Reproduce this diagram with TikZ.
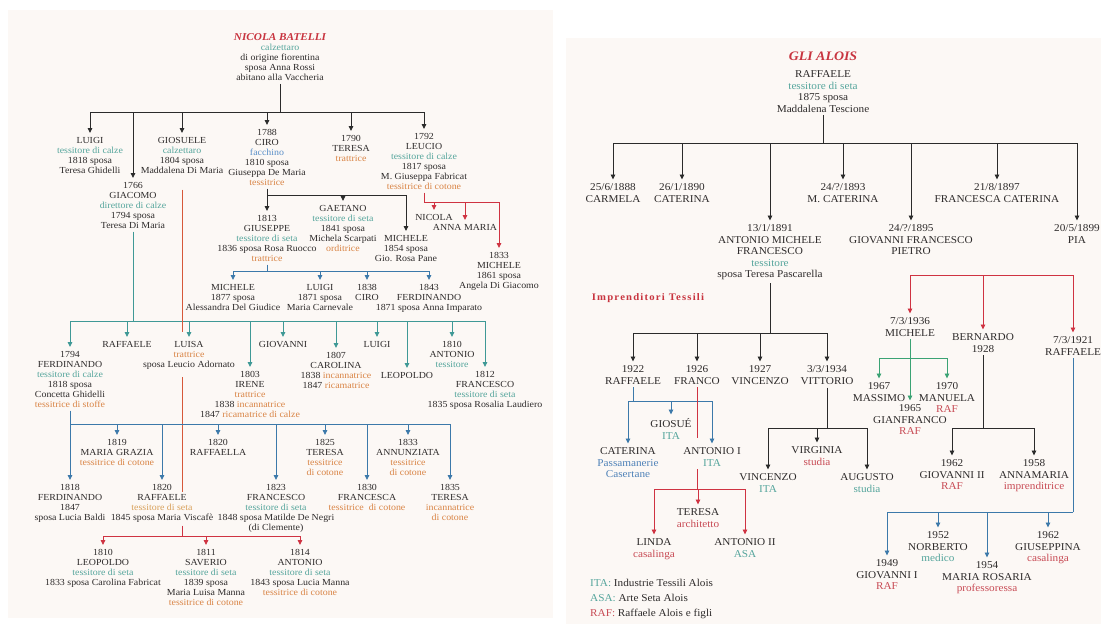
\documentclass[tikz,border=0pt]{standalone}
\usepackage{fontspec}
\setmainfont[FakeStretch=1.07]{Liberation Serif}
\newfontfamily\spacedfont[FakeStretch=1.07,LetterSpace=12]{Liberation Serif}
\usetikzlibrary{arrows.meta}

% colours of the two family trees
\definecolor{bgc}{HTML}{FCF8F5}
\definecolor{ink}{HTML}{2E2B2B}
\definecolor{occ}{HTML}{55A59C}
\definecolor{org}{HTML}{D98445}
\definecolor{tan}{HTML}{D8A05A}
\definecolor{rdt}{HTML}{C84B55}
\definecolor{fac}{HTML}{5A8FC8}
\definecolor{blt}{HTML}{4F82B8}
\definecolor{ttl}{HTML}{C8343F}
\definecolor{lnk}{HTML}{2B2B2B}
\definecolor{lteal}{HTML}{3F9996}
\definecolor{lblue}{HTML}{3C79AA}
\definecolor{lred}{HTML}{CF3342}
\definecolor{lorg}{HTML}{D6583A}
\definecolor{lgrn}{HTML}{3BA374}

\newcommand{\tealtx}[1]{\textcolor{occ}{#1}}
\newcommand{\orgtx}[1]{\textcolor{org}{#1}}
\newcommand{\tantx}[1]{\textcolor{tan}{#1}}
\newcommand{\redtx}[1]{\textcolor{rdt}{#1}}
\newcommand{\factx}[1]{\textcolor{fac}{#1}}
\newcommand{\blutx}[1]{\textcolor{blt}{#1}}

\begin{document}
\begin{tikzpicture}[x=1pt,y=-1pt,
    pl/.style={font=\fontsize{9.25}{10}\selectfont, align=center,
      inner sep=0pt, anchor=north, text=ink},
    pr/.style={font=\fontsize{10.5}{11.5}\selectfont, align=center,
      inner sep=0pt, anchor=north, text=ink},
    ln/.style={line width=0.9pt, lnk, shorten <=3pt},
    bus/.style={line width=0.9pt, lnk, line cap=rect},
    arr/.style={line width=0.9pt, lnk,
      -{Triangle[length=5pt,width=4.6pt]}, shorten >=4pt}
  ]
  \useasboundingbox (0,0) rectangle (1105,624);

  % ---------------- Left panel: Batelli ----------------
  \begin{scope}
    \fill[bgc] (8,10) rectangle (553,618);

    % Founder
    \node[text=ttl, font=\fontsize{10.5}{12}\selectfont\bfseries\itshape]
      (nbtitle) at (280,37) {NICOLA BATELLI};
    \node[pl] (nicola) at (280,44)
      {\tealtx{calzettaro}\\di origine fiorentina\\sposa Anna Rossi\\abitano alla Vaccheria};

    % Children
    \node[pl] (luigiA) at (90,137)
      {LUIGI\\\tealtx{tessitore di calze}\\1818 sposa\\Teresa Ghidelli};
    \node[pl] (giacomo) at (133,182)
      {1766\\GIACOMO\\\tealtx{direttore di calze}\\1794 sposa\\Teresa Di Maria};
    \node[pl] (giosuele) at (182,137)
      {GIOSUELE\\\tealtx{calzettaro}\\1804 sposa\\Maddalena Di Maria};
    \node[pl] (ciro) at (267,129)
      {1788\\CIRO\\\factx{facchino}\\1810 sposa\\Giuseppa De Maria\\\orgtx{tessitrice}};
    \node[pl] (teresaA) at (351,135) {1790\\TERESA\\\orgtx{trattrice}};
    \node[pl] (leucio) at (424,133)
      {1792\\LEUCIO\\\tealtx{tessitore di calze}\\1817 sposa\\M. Giuseppa Fabricat\\\orgtx{tessitrice di cotone}};

    % Leucio's line
    \node[pl] (nicolaB) at (434,214) {NICOLA};
    \node[pl] (annamaria) at (465,224) {ANNA MARIA};
    \node[pl] (micheleA) at (499,252)
      {1833\\MICHELE\\1861 sposa\\Angela Di Giacomo};

    % Ciro's line
    \node[pl] (giuseppe) at (267,215)
      {1813\\GIUSEPPE\\\tealtx{tessitore di seta}\\1836 sposa Rosa Ruocco\\\orgtx{trattrice}};
    \node[pl] (gaetano) at (343,205)
      {GAETANO\\\tealtx{tessitore di seta}\\1841 sposa\\Michela Scarpati\\\orgtx{orditrice}};
    \node[pl] (micheleB) at (406,235) {MICHELE\\1854 sposa\\Gio. Rosa Pane};

    % Giuseppe's line
    \node[pl] (micheleC) at (233,284) {MICHELE\\1877 sposa\\Alessandra Del Giudice};
    \node[pl] (luigiB) at (320,284) {LUIGI\\1871 sposa\\Maria Carnevale};
    \node[pl] (ciroB) at (367,284) {1838\\CIRO};
    \node[pl] (ferdinandoA) at (429,284) {1843\\FERDINANDO\\1871 sposa Anna Imparato};

    % Giacomo's line
    \node[pl] (ferdinandoB) at (70,351)
      {1794\\FERDINANDO\\\tealtx{tessitore di calze}\\1818 sposa\\Concetta Ghidelli\\\orgtx{tessitrice di stoffe}};
    \node[pl] (raffaeleA) at (127,341) {RAFFAELE};
    \node[pl] (luisa) at (189,341) {LUISA\\\orgtx{trattrice}\\sposa Leucio Adornato};
    \node[pl] (irene) at (250,371)
      {1803\\IRENE\\\orgtx{trattrice}\\1838 \orgtx{incannatrice}\\1847 \orgtx{ricamatrice di calze}};
    \node[pl] (giovanni) at (283,341) {GIOVANNI};
    \node[pl] (carolina) at (336,352)
      {1807\\CAROLINA\\1838 \orgtx{incannatrice}\\1847 \orgtx{ricamatrice}};
    \node[pl] (luigiC) at (377,341) {LUIGI};
    \node[pl] (leopoldoA) at (407,372) {LEOPOLDO};
    \node[pl] (antonioA) at (452,341) {1810\\ANTONIO\\\tealtx{tessitore}};
    \node[pl] (francescoA) at (485,371)
      {1812\\FRANCESCO\\\tealtx{tessitore di seta}\\1835 sposa Rosalia Laudiero};

    % Ferdinando's line
    \node[pl] (ferdinandoC) at (70,484) {1818\\FERDINANDO\\1847\\sposa Lucia Baldi};
    \node[pl] (mariagrazia) at (117,439)
      {1819\\MARIA GRAZIA\\\orgtx{tessitrice di cotone}};
    \node[pl] (raffaeleB) at (162,484)
      {1820\\RAFFAELE\\\tantx{tessitore di seta}\\1845 sposa Maria Viscafè};
    \node[pl] (raffaella) at (218,439) {1820\\RAFFAELLA};
    \node[pl] (francescoB) at (276,484)
      {1823\\FRANCESCO\\\tealtx{tessitore di seta}\\1848 sposa Matilde De Negri\\(di Clemente)};
    \node[pl] (teresaB) at (325,439)
      {1825\\TERESA\\\orgtx{tessitrice}\\\orgtx{di cotone}};
    \node[pl] (francesca) at (367,484)
      {1830\\FRANCESCA\\\orgtx{tessitrice\ \ di cotone}};
    \node[pl] (annunziata) at (408,439)
      {1833\\ANNUNZIATA\\\orgtx{tessitrice}\\\orgtx{di cotone}};
    \node[pl] (teresaC) at (450,484)
      {1835\\TERESA\\\orgtx{incannatrice}\\\orgtx{di cotone}};

    % Raffaele's line
    \node[pl] (leopoldoB) at (103,549)
      {1810\\LEOPOLDO\\\tealtx{tessitore di seta}\\1833 sposa Carolina Fabricat};
    \node[pl] (saverio) at (206,549)
      {1811\\SAVERIO\\\tealtx{tessitore di seta}\\1839 sposa\\Maria Luisa Manna\\\orgtx{tessitrice di cotone}};
    \node[pl] (antonioB) at (300,549)
      {1814\\ANTONIO\\\tealtx{tessitore di seta}\\1843 sposa Lucia Manna\\\orgtx{tessitrice di cotone}};

    % Bus heights
    \coordinate (busA) at (0,112);
    \coordinate (busC) at (0,195);
    \coordinate (busL) at (0,202);
    \coordinate (busG) at (0,271);
    \coordinate (busT) at (0,321);
    \coordinate (busB) at (0,424);
    \coordinate (busR) at (0,536);

    % Nicola -> children
    \draw[ln] (nicola.south) -- (nicola.south |- busA);
    \draw[bus] (luigiA |- busA) -- (leucio |- busA);
    \foreach \c in {luigiA,giacomo,giosuele,ciro,teresaA,leucio}
      \draw[arr] (\c |- busA) -- (\c.north);

    % Leucio -> children
    \draw[ln, lred] (leucio.south) -- (leucio |- busL);
    \draw[bus, lred] (leucio |- busL) -- (micheleA |- busL);
    \foreach \c in {nicolaB,annamaria,micheleA}
      \draw[arr, lred] (\c |- busL) -- (\c.north);

    % Ciro -> children
    \draw[arr, shorten <=3pt] (ciro.south) -- (giuseppe.north);
    \draw[bus] (ciro |- busC) -- (micheleB |- busC);
    \foreach \c in {gaetano,micheleB}
      \draw[arr] (\c |- busC) -- (\c.north);

    % Giuseppe -> children
    \draw[ln, lblue] (giuseppe.south) -- (giuseppe |- busG);
    \draw[bus, lblue] (micheleC |- busG) -- (ferdinandoA |- busG);
    \foreach \c in {micheleC,luigiB,ciroB,ferdinandoA}
      \draw[arr, lblue] (\c |- busG) -- (\c.north);

    % Giacomo -> children
    \draw[ln, lteal] (giacomo.south) -- (giacomo |- busT);
    \draw[bus, lteal] (ferdinandoB |- busT) -- (francescoA |- busT);
    \foreach \c in {ferdinandoB,raffaeleA,luisa,irene,giovanni,carolina,luigiC,leopoldoA,antonioA,francescoA}
      \draw[arr, lteal] (\c |- busT) -- (\c.north);

    % Giosuele -> Luisa -> Raffaele
    \coordinate (gsA) at (182,332);
    \coordinate (gsB) at (182,377);
    \coordinate (gsC) at (182,492);
    \draw[ln, lorg, shorten <=16pt] (giosuele.south) -- (gsA);
    \draw[line width=0.9pt, lorg] (gsB) -- (gsC);

    % Ferdinando -> children
    \draw[ln, lblue] (ferdinandoB.south) -- (ferdinandoB |- busB);
    \draw[bus, lblue] (ferdinandoC |- busB) -- (teresaC |- busB);
    \foreach \c in {ferdinandoC,mariagrazia,raffaeleB,raffaella,francescoB,teresaB,francesca,annunziata,teresaC}
      \draw[arr, lblue] (\c |- busB) -- (\c.north);

    % Raffaele -> children
    \draw[ln, lred] (gsC |- raffaeleB.south) -- (gsC |- busR);
    \draw[bus, lred] (leopoldoB |- busR) -- (antonioB |- busR);
    \foreach \c in {leopoldoB,saverio,antonioB}
      \draw[arr, lred] (\c |- busR) -- (\c.north);
  \end{scope}

  % ---------------- Right panel: Alois ----------------
  \begin{scope}
    \fill[bgc] (566,38) rectangle (1101,624);

    % Founder
    \node[text=ttl, font=\fontsize{13}{15}\selectfont\bfseries\itshape]
      (alois) at (823,56) {GLI ALOIS};
    \node[pr] (raffaeleR) at (823,70.5)
      {RAFFAELE\\\tealtx{tessitore di seta}\\1875 sposa\\Maddalena Tescione};

    % Children
    \node[pr] (carmela) at (613,183.5) {25/6/1888\\CARMELA};
    \node[pr] (caterinaA) at (682,183.5) {26/1/1890\\CATERINA};
    \node[pr] (antonioM) at (770,224.5)
      {13/1/1891\\ANTONIO MICHELE\\FRANCESCO\\\tealtx{tessitore}\\sposa Teresa Pascarella};
    \node[pr] (mcaterina) at (843,183.5) {24/?/1893\\M. CATERINA};
    \node[pr] (giovanniF) at (911,224.5) {24/?/1895\\GIOVANNI FRANCESCO\\PIETRO};
    \node[pr] (francescaC) at (997,183.5) {21/8/1897\\FRANCESCA CATERINA};
    \node[pr] (pia) at (1077,224.5) {20/5/1899\\PIA};

    \node[text=ttl, font=\spacedfont\fontsize{10}{12}\selectfont\bfseries]
      (imprenditori) at (648,298) {Imprenditori Tessili};

    % Antonio Michele's line
    \node[pr] (raffaeleC) at (633,365.5) {1922\\RAFFAELE};
    \node[pr] (franco) at (697,365.5) {1926\\FRANCO};
    \node[pr] (vincenzoA) at (760,365.5) {1927\\VINCENZO};
    \node[pr] (vittorio) at (827,365.5) {3/3/1934\\VITTORIO};

    \node[pr] (giosue) at (671,418.5) {GIOSUÉ\\\tealtx{ITA}};
    \node[pr] (caterinaB) at (628,447.5)
      {CATERINA\\\blutx{Passamanerie}\\\blutx{Casertane}};
    \node[pr] (antonioI) at (712,447.5) {ANTONIO I\\\tealtx{ITA}};
    \node[pr] (teresaD) at (698,508.5) {TERESA\\\redtx{architetto}};
    \node[pr] (linda) at (654,538.5) {LINDA\\\redtx{casalinga}};
    \node[pr] (antonioII) at (745,538.5) {ANTONIO II\\\tealtx{ASA}};

    \node[pr] (virginia) at (817,446.5) {VIRGINIA\\\redtx{studia}};
    \node[pr] (vincenzoB) at (768,473.5) {VINCENZO\\\tealtx{ITA}};
    \node[pr] (augusto) at (867,473.5) {AUGUSTO\\\tealtx{studia}};

    % Second branch
    \node[pr] (micheleR) at (910,317.5) {7/3/1936\\MICHELE};
    \node[pr] (bernardo) at (983,333.5) {BERNARDO\\1928};
    \node[pr] (raffaeleD) at (1073,336.5) {7/3/1921\\RAFFAELE};

    \node[pr] (massimo) at (879,382.5) {1967\\MASSIMO};
    \node[pr] (manuela) at (947,382.5) {1970\\MANUELA\\\redtx{RAF}};
    \node[pr] (gianfranco) at (910,404.5) {1965\\GIANFRANCO\\\redtx{RAF}};

    \node[pr] (giovanniII) at (952,459.5) {1962\\GIOVANNI II\\\redtx{RAF}};
    \node[pr] (annamariaB) at (1034,459.5) {1958\\ANNAMARIA\\\redtx{imprenditrice}};

    \node[pr] (norberto) at (938,531.5) {1952\\NORBERTO\\\tealtx{medico}};
    \node[pr] (giuseppina) at (1048,531.5) {1962\\GIUSEPPINA\\\redtx{casalinga}};
    \node[pr] (giovanniI) at (887,559.5) {1949\\GIOVANNI I\\\redtx{RAF}};
    \node[pr] (mariarosaria) at (987,561.5) {1954\\MARIA ROSARIA\\\redtx{professoressa}};

    % Legend
    \node[pr, anchor=north west, align=left, font=\fontsize{10.5}{15}\selectfont]
      (legend) at (590,579.5)
      {\tealtx{ITA:} Industrie Tessili Alois\\\tealtx{ASA:} Arte Seta Alois\\\redtx{RAF:} Raffaele Alois e figli};

    % Bus heights
    \coordinate (busR0) at (0,143);
    \coordinate (busM) at (0,275);
    \coordinate (busAM) at (0,333);
    \coordinate (busMi) at (0,358);
    \coordinate (busRa) at (0,401);
    \coordinate (busV) at (0,428);
    \coordinate (busAn) at (0,489);
    \coordinate (busRf) at (0,512);

    % Raffaele -> children
    \draw[ln] (raffaeleR.south) -- (raffaeleR |- busR0);
    \draw[bus] (carmela |- busR0) -- (pia |- busR0);
    \foreach \c in {carmela,caterinaA,antonioM,mcaterina,giovanniF,francescaC,pia}
      \draw[arr] (\c |- busR0) -- (\c.north);

    % Antonio Michele -> children
    \draw[ln] (antonioM.south) -- (antonioM |- busAM);
    \draw[bus] (raffaeleC |- busAM) -- (vittorio |- busAM);
    \foreach \c in {raffaeleC,franco,vincenzoA,vittorio}
      \draw[arr] (\c |- busAM) -- (\c.north);

    % Raffaele 1922 -> children
    \draw[ln, lblue] (raffaeleC.south) -- (raffaeleC |- busRa);
    \draw[bus, lblue] (caterinaB |- busRa) -- (antonioI |- busRa);
    \foreach \c in {caterinaB,giosue,antonioI}
      \draw[arr, lblue] (\c |- busRa) -- (\c.north);

    % Franco -> Antonio I -> children
    \draw[ln, lred, shorten >=10pt] (franco.south) -- (franco.south |- antonioI.north);
    \draw[ln, lred] (franco |- antonioI.south) -- (franco |- busAn);
    \draw[bus, lred] (linda |- busAn) -- (antonioII |- busAn);
    \foreach \c in {linda,teresaD,antonioII}
      \draw[arr, lred] (\c |- busAn) -- (\c.north);

    % Vittorio -> children
    \draw[ln] (vittorio.south) -- (vittorio |- busV);
    \draw[bus] (vincenzoB |- busV) -- (augusto |- busV);
    \foreach \c in {vincenzoB,virginia,augusto}
      \draw[arr] (\c |- busV) -- (\c.north);

    % Red bracket
    \draw[bus, lred] (micheleR |- busM) -- (raffaeleD |- busM);
    \foreach \c in {micheleR,bernardo,raffaeleD}
      \draw[arr, lred] (\c |- busM) -- (\c.north);

    % Michele -> children
    \draw[arr, lgrn, shorten <=3pt] (micheleR.south) -- (gianfranco.north);
    \draw[bus, lgrn] (massimo |- busMi) -- (manuela |- busMi);
    \foreach \c in {massimo,manuela}
      \draw[arr, lgrn] (\c |- busMi) -- (\c.north);

    % Bernardo -> children
    \draw[ln] (bernardo.south) -- (bernardo |- busV);
    \draw[bus] (giovanniII |- busV) -- (annamariaB |- busV);
    \foreach \c in {giovanniII,annamariaB}
      \draw[arr] (\c |- busV) -- (\c.north);

    % Raffaele 1921 -> children
    \draw[ln, lblue] (raffaeleD.south) -- (raffaeleD |- busRf);
    \draw[bus, lblue] (giovanniI |- busRf) -- (raffaeleD |- busRf);
    \foreach \c in {giovanniI,norberto,mariarosaria,giuseppina}
      \draw[arr, lblue] (\c |- busRf) -- (\c.north);
  \end{scope}
\end{tikzpicture}
\end{document}
